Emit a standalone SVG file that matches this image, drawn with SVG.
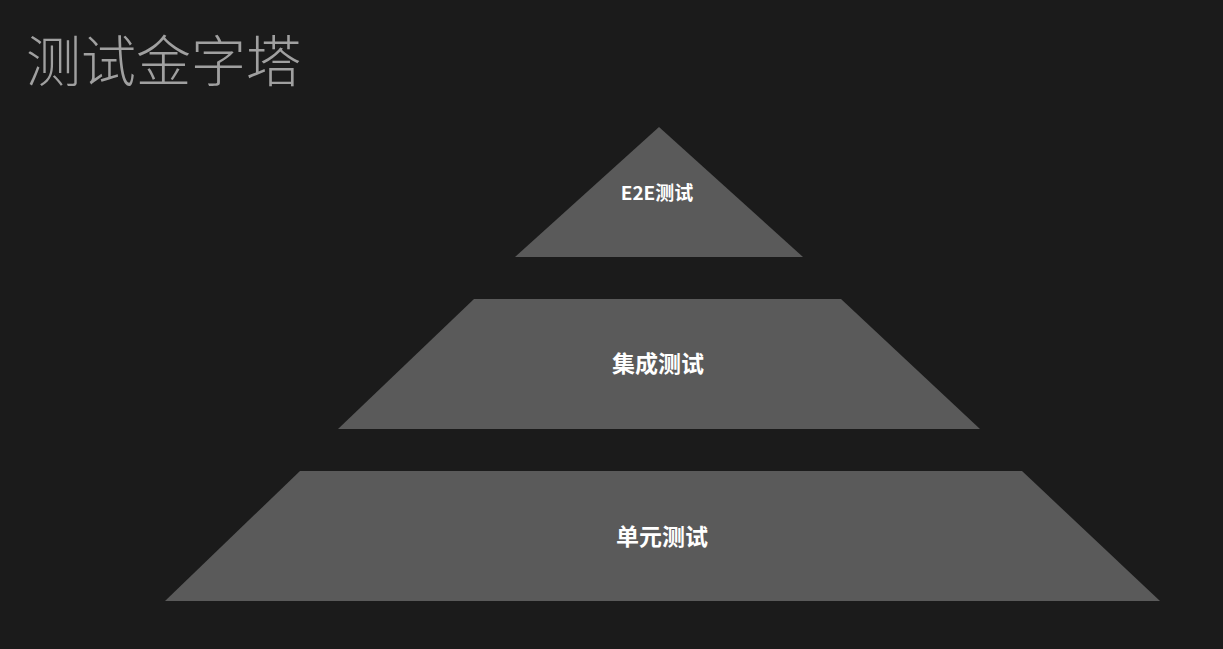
<svg xmlns="http://www.w3.org/2000/svg" width="1223" height="649" viewBox="0 0 1223 649">
<style>
.bg{fill:#1b1b1b}
.tier{fill:#5a5a5a}
.lbl{fill:#ffffff;font-family:"Noto Sans CJK SC","Liberation Sans",sans-serif;font-weight:700;text-anchor:middle;dominant-baseline:central}
.title{fill:#a0a0a0;font-family:"Noto Sans CJK SC",sans-serif;font-weight:300;font-size:55px}
</style>
<rect class="bg" x="0" y="0" width="1223" height="649"/>
<text class="title" x="26" y="81">测试金字塔</text>
<g id="e2e">
<polygon class="tier" points="659,127 803,257 515,257"/>
<text class="lbl" x="657" y="191" font-size="19">E2E测试</text>
</g>
<g id="integration">
<polygon class="tier" points="474,299 841,299 980,429 338,429"/>
<text class="lbl" x="658" y="362" font-size="23">集成测试</text>
</g>
<g id="unit">
<polygon class="tier" points="300,471 1022,471 1160,601 165,601"/>
<text class="lbl" x="662" y="535" font-size="23">单元测试</text>
</g>
<g id="connectors"/>
</svg>
